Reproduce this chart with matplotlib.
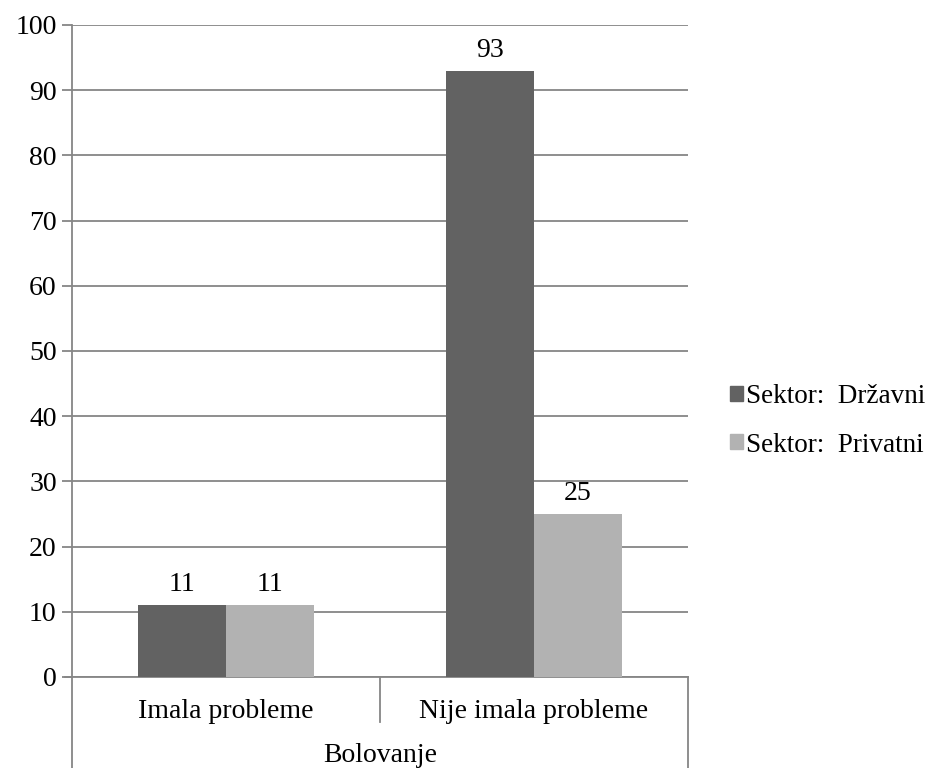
import numpy as np
import matplotlib
matplotlib.use('Agg')
from matplotlib import pyplot as plt
from matplotlib.patches import Patch

categories = ['Imala probleme', 'Nije imala probleme']
group_label = 'Bolovanje'
series_names = ['Sektor:  Državni', 'Sektor:  Privatni']
drzavni = [11, 93]
privatni = [11, 25]
colors = ['#626262', '#b2b2b2']
yticks = list(range(0, 101, 10))

plt.rcParams['font.family'] = ['Liberation Serif', 'DejaVu Serif']
fs = 20
grid_c = '#868686'

fig = plt.figure(figsize=(9.27, 7.68), dpi=100)
ax = fig.add_axes([72/927, 1-677/768, (688-72)/927, (677-25)/768])

x = np.arange(len(categories))
w = 0.285
for i, vals in enumerate([drzavni, privatni]):
    pos = x + (i - 0.5) * w
    ax.bar(pos, vals, width=w, color=colors[i], zorder=3)
    for p, v in zip(pos, vals):
        ax.text(p, v + 1.2, str(v), ha='center', va='bottom', fontsize=fs)

ax.set_xlim(-0.5, 1.5)
ax.set_ylim(0, 100)
ax.set_yticks(yticks)
ax.set_yticklabels([str(t) for t in yticks], fontsize=fs)
ax.yaxis.grid(True, color=grid_c, linewidth=1.3, zorder=0)
ax.tick_params(axis='y', length=7, color=grid_c, width=1.3, pad=4)
ax.set_xticks([])
for s in ['top', 'right']:
    ax.spines[s].set_visible(False)
for s in ['left', 'bottom']:
    ax.spines[s].set_color(grid_c)
    ax.spines[s].set_linewidth(1.3)

# category axis box
h_full = (768-677)/652
h_div = (722-677)/652
kw = dict(transform=ax.transAxes, clip_on=False, color=grid_c, lw=1.3)
ax.plot([0, 0], [0, -h_full - 0.01], **kw)
ax.plot([1, 1], [0, -h_full - 0.01], **kw)
ax.plot([0.5, 0.5], [0, -h_div], **kw)
ax.plot([-7/616, 0], [0, 0], **kw)
for i, c in enumerate(categories):
    ax.text(0.25 + 0.5 * i, -(712-677)/652, c, transform=ax.transAxes,
            ha='center', va='center', fontsize=fs)
ax.text(0.5, -(755-677)/652, group_label, transform=ax.transAxes,
        ha='center', va='center', fontsize=fs)

handles = [Patch(color=c) for c in colors]
fig.legend(handles, series_names, loc='center left',
           bbox_to_anchor=(730/927, 1-421/768), frameon=False,
           fontsize=19.5, handlelength=0.48, handleheight=0.48,
           handletextpad=0.12, labelspacing=0.85, borderaxespad=0,
           borderpad=0)

fig.savefig('out.png', dpi=100)
